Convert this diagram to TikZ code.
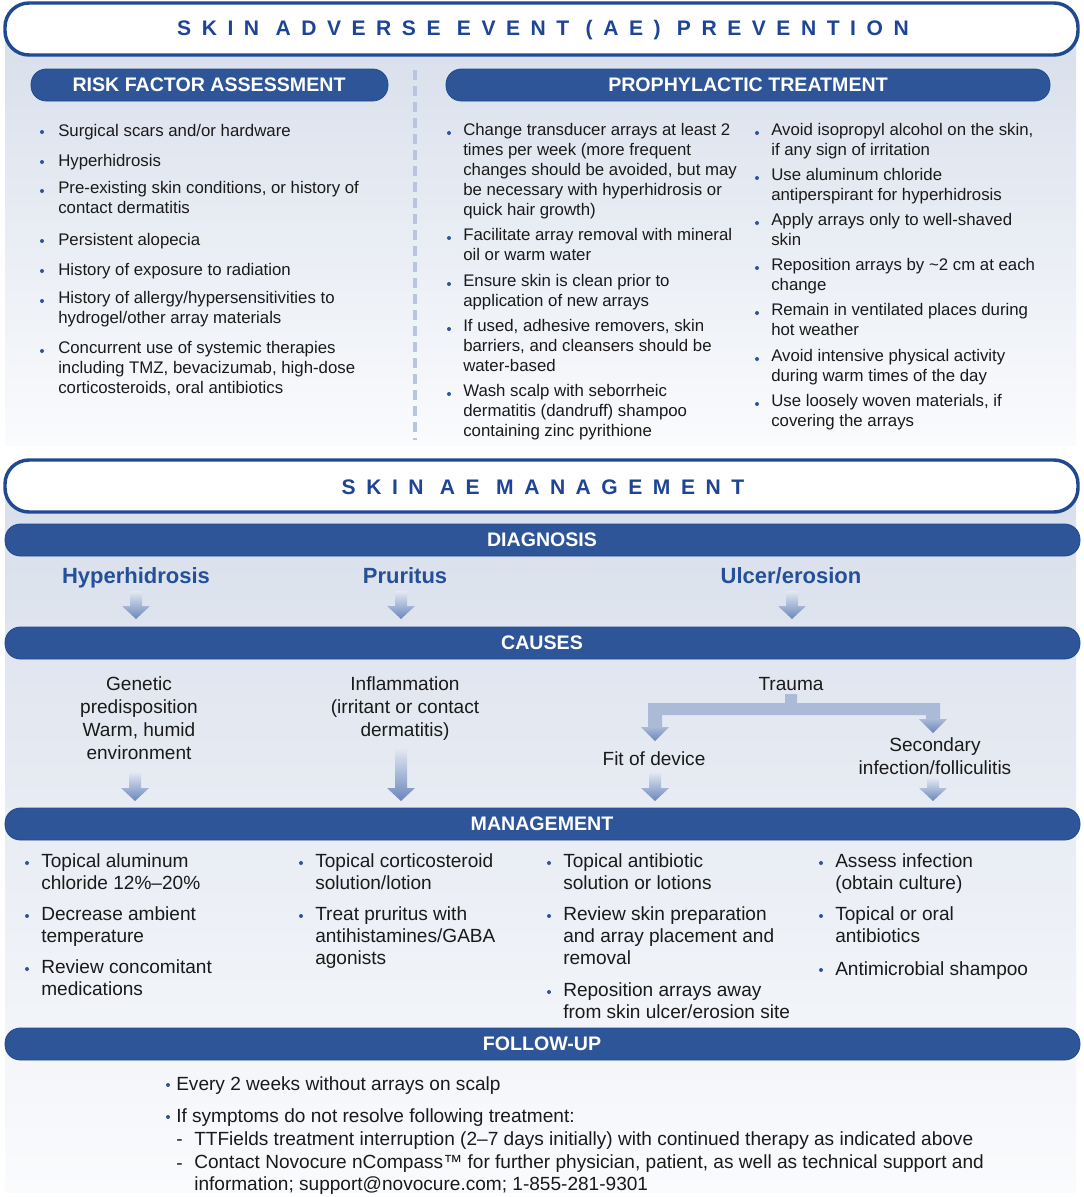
\documentclass[tikz,border=0pt]{standalone}
\usepackage{fontspec}
\setmainfont{Liberation Sans}
\definecolor{barblue}{HTML}{2E5597}
\definecolor{darkblue}{HTML}{1F4A92}
\definecolor{titleblue}{HTML}{1E4595}
\definecolor{diagblue}{HTML}{24509A}
\definecolor{panelA}{HTML}{D8DFEB}
\definecolor{panelB}{HTML}{FAFBFD}
\definecolor{arrtop}{HTML}{E4E9F2}
\definecolor{arrbot}{HTML}{6A86BC}
\definecolor{bracketc}{HTML}{AABAD7}
\definecolor{dashc}{HTML}{B7C5DE}
\definecolor{txt}{HTML}{1A1A1A}
\tikzset{
  pillbox/.style={draw=darkblue, line width=2.6pt, fill=white, rounded corners=18pt},
  barbox/.style={draw=darkblue, line width=0.6pt, fill=barblue, rounded corners=11.5pt},
  bartext/.style={text=white, font=\fontsize{14.7}{17}\selectfont\bfseries, inner sep=0pt},
  titletext/.style={text=titleblue, font=\fontsize{15.8}{18}\selectfont\bfseries\addfontfeature{LetterSpace=50}, inner sep=0pt},
  ptext/.style={font=\fontsize{12.6}{15}\selectfont, align=left, inner sep=0pt, anchor=north west, text=txt, execute at begin node=\strut},
  mtext/.style={font=\fontsize{14.3}{16.5}\selectfont, align=left, inner sep=0pt, anchor=north west, text=txt, execute at begin node=\strut},
  ctext/.style={font=\fontsize{14.3}{17.25}\selectfont, align=center, inner sep=0pt, anchor=north, text=txt, execute at begin node=\strut},
  diagtext/.style={font=\fontsize{16.5}{20}\selectfont\bfseries, text=diagblue, inner sep=0pt, anchor=base},
}
% name, style, bullet x, text x, centre y, text
\newcommand{\bitem}[6]{%
  \fill[barblue] (#3,#5+1) circle (1.5pt);
  \node[#2] (#1) at (#4,#5-9) {#6};}
% block arrow: x, y top, y tip
\newcommand{\barrow}[3]{%
  \shade[top color=arrtop, bottom color=arrbot] (#1-6,#2) -- (#1+6,#2) -- (#1+6,#3-13) -- (#1+14,#3-13) -- (#1,#3) -- (#1-14,#3-13) -- (#1-6,#3-13) -- cycle;}
\begin{document}
\begin{tikzpicture}[x=0.75pt,y=-0.75pt]
\useasboundingbox (0,0) rectangle (1084,1197);
\fill[white] (0,0) rectangle (1084,1197);

% ---------- PREVENTION ----------
\shade[top color=panelA, bottom color=panelB] (5,28) rectangle (1076,445);
\draw[pillbox] (5,3) rectangle (1078,55);
\node[titletext] (t1) at (543,30) {SKIN ADVERSE EVENT (AE) PREVENTION};

\draw[barbox] (31,69) rectangle (388,101);
\node[bartext] (hrisk) at (209,85) {RISK FACTOR ASSESSMENT};
\draw[barbox] (446,69) rectangle (1050,101);
\node[bartext] (hpro) at (748,85) {PROPHYLACTIC TREATMENT};

\draw[dashc, line width=2.4pt, dash pattern=on 7.5pt off 4.5pt] (415,70) -- (415,440);

\bitem{r1}{ptext}{42}{58}{131}{Surgical scars and/or hardware}
\bitem{r2}{ptext}{42}{58}{161}{Hyperhidrosis}
\bitem{r3}{ptext}{42}{58}{190}{Pre-existing skin conditions, or history of\\contact dermatitis}
\bitem{r4}{ptext}{42}{58}{240}{Persistent alopecia}
\bitem{r5}{ptext}{42}{58}{270}{History of exposure to radiation}
\bitem{r6}{ptext}{42}{58}{300}{History of allergy/hypersensitivities to\\hydrogel/other array materials}
\bitem{r7}{ptext}{42}{58}{350}{Concurrent use of systemic therapies\\including TMZ, bevacizumab, high-dose\\corticosteroids, oral antibiotics}

\bitem{p1}{ptext}{449}{463}{132}{Change transducer arrays at least 2\\times per week (more frequent\\changes should be avoided, but may\\be necessary with hyperhidrosis or\\quick hair growth)}
\bitem{p2}{ptext}{449}{463}{237}{Facilitate array removal with mineral\\oil or warm water}
\bitem{p3}{ptext}{449}{463}{283}{Ensure skin is clean prior to\\application of new arrays}
\bitem{p4}{ptext}{449}{463}{328}{If used, adhesive removers, skin\\barriers, and cleansers should be\\water-based}
\bitem{p5}{ptext}{449}{463}{393}{Wash scalp with seborrheic\\dermatitis (dandruff) shampoo\\containing zinc pyrithione}

\bitem{q1}{ptext}{757}{771}{132}{Avoid isopropyl alcohol on the skin,\\if any sign of irritation}
\bitem{q2}{ptext}{757}{771}{177}{Use aluminum chloride\\antiperspirant for hyperhidrosis}
\bitem{q3}{ptext}{757}{771}{222}{Apply arrays only to well-shaved\\skin}
\bitem{q4}{ptext}{757}{771}{267}{Reposition arrays by \textasciitilde 2 cm at each\\change}
\bitem{q5}{ptext}{757}{771}{312}{Remain in ventilated places during\\hot weather}
\bitem{q6}{ptext}{757}{771}{358}{Avoid intensive physical activity\\during warm times of the day}
\bitem{q7}{ptext}{757}{771}{403}{Use loosely woven materials, if\\covering the arrays}

% ---------- MANAGEMENT ----------
\shade[top color=panelA, bottom color=panelB] (5,485) rectangle (1076,1192);
\draw[pillbox] (5,460) rectangle (1078,512);
\node[titletext] (t2) at (543,487) {SKIN AE MANAGEMENT};

\draw[barbox] (5,524) rectangle (1080,556);
\node[bartext] (bdiag) at (542,540) {DIAGNOSIS};
\draw[barbox] (5,627) rectangle (1080,659);
\node[bartext] (bcause) at (542,643) {CAUSES};
\draw[barbox] (5,808) rectangle (1080,840);
\node[bartext] (bman) at (542,824) {MANAGEMENT};
\draw[barbox] (5,1028) rectangle (1080,1060);
\node[bartext] (bfol) at (542,1044) {FOLLOW-UP};

% diagnosis
\node[diagtext] (dhyp) at (136,583) {Hyperhidrosis};
\node[diagtext] (dpru) at (405,583) {Pruritus};
\node[diagtext] (dulc) at (791,583) {Ulcer/erosion};
\barrow{136}{591}{619}
\barrow{401}{591}{619}
\barrow{792}{591}{619}

% causes
\node[ctext] (cgen) at (139,676.5) {Genetic\\predisposition\\Warm, humid\\environment};
\node[ctext] (cinf) at (405,676.5) {Inflammation\\(irritant or contact\\dermatitis)};
\node[ctext] (ctra) at (791,674.5) {Trauma};
\node[ctext] (cfit) at (654,749.5) {Fit of device};
\node[ctext] (csec) at (935,737.5) {Secondary\\infection/folliculitis};

\fill[bracketc] (785,694) -- (797,694) -- (797,703) -- (940,703) -- (940,719) -- (926,719) -- (926,715) -- (662,715) -- (662,727) -- (648,727) -- (648,703) -- (785,703) -- cycle;
\shade[top color=bracketc, bottom color=arrbot] (641,727) -- (669,727) -- (655,741) -- cycle;
\shade[top color=bracketc, bottom color=arrbot] (919,719) -- (947,719) -- (933,733) -- cycle;

\barrow{135}{772}{801}
\barrow{401}{748}{801}
\barrow{655}{772}{801}
\barrow{933}{778}{801}

% management
\bitem{m11}{mtext}{27}{41}{862}{Topical aluminum\\chloride 12\%–20\%}
\bitem{m12}{mtext}{27}{41}{915}{Decrease ambient\\temperature}
\bitem{m13}{mtext}{27}{41}{968}{Review concomitant\\medications}
\bitem{m21}{mtext}{301}{315}{862}{Topical corticosteroid\\solution/lotion}
\bitem{m22}{mtext}{301}{315}{915}{Treat pruritus with\\antihistamines/GABA\\agonists}
\bitem{m31}{mtext}{549}{563}{862}{Topical antibiotic\\solution or lotions}
\bitem{m32}{mtext}{549}{563}{915}{Review skin preparation\\and array placement and\\removal}
\bitem{m33}{mtext}{549}{563}{991}{Reposition arrays away\\from skin ulcer/erosion site}
\bitem{m41}{mtext}{821}{835}{862}{Assess infection\\(obtain culture)}
\bitem{m42}{mtext}{821}{835}{915}{Topical or oral\\antibiotics}
\bitem{m43}{mtext}{821}{835}{969}{Antimicrobial shampoo}

% follow-up
\bitem{f1}{mtext}{168}{176}{1084}{Every 2 weeks without arrays on scalp}
\bitem{f2}{mtext}{168}{176}{1116}{If symptoms do not resolve following treatment:}
\node[mtext] (fd1) at (176,1139-9) {-};
\node[mtext] (f3) at (194,1139-9) {TTFields treatment interruption (2–7 days initially) with continued therapy as indicated above};
\node[mtext] (fd2) at (176,1163-9) {-};
\node[mtext] (f4) at (194,1163-9) {Contact Novocure nCompass™ for further physician, patient, as well as technical support and\\information; support@novocure.com; 1-855-281-9301};
\end{tikzpicture}
\end{document}
